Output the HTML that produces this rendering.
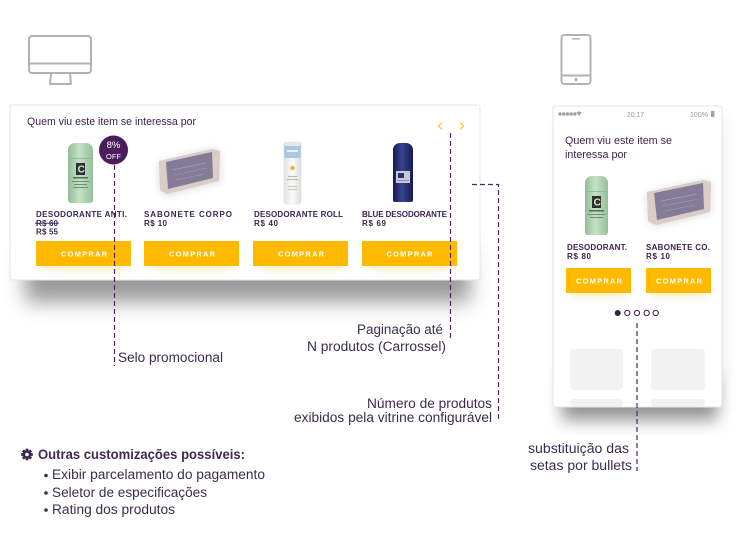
<!DOCTYPE html>
<html><head><meta charset="utf-8"><style>
html,body{margin:0;padding:0;background:#fff;}
svg{display:block;}
text{font-family:"Liberation Sans",Arial,sans-serif;}
</style></head><body>
<svg width="736" height="548" viewBox="0 0 736 548" xmlns="http://www.w3.org/2000/svg">
<defs>
<filter id="b10" x="-30%" y="-100%" width="160%" height="300%"><feGaussianBlur stdDeviation="10"/></filter>
<filter id="b9" x="-30%" y="-100%" width="160%" height="300%"><feGaussianBlur stdDeviation="9"/></filter>
<filter id="b8" x="-30%" y="-30%" width="160%" height="160%"><feGaussianBlur stdDeviation="8"/></filter>
<filter id="b4" x="-30%" y="-100%" width="160%" height="300%"><feGaussianBlur stdDeviation="4"/></filter>
<linearGradient id="gGreen" x1="0" x2="1" y1="0" y2="0"><stop offset="0" stop-color="#93bd97"/><stop offset=".45" stop-color="#c6e2c6"/><stop offset="1" stop-color="#95bf98"/></linearGradient>
<linearGradient id="gBlue" x1="0" x2="1" y1="0" y2="0"><stop offset="0" stop-color="#141a52"/><stop offset=".45" stop-color="#3a4590"/><stop offset="1" stop-color="#141a52"/></linearGradient>
<linearGradient id="gWhite" x1="0" x2="1" y1="0" y2="0"><stop offset="0" stop-color="#e2e2df"/><stop offset=".5" stop-color="#fafaf8"/><stop offset="1" stop-color="#dcdcd8"/></linearGradient>
</defs>

<!-- monitor icon -->
<g fill="none" stroke="#b3b3b3" stroke-width="2" stroke-linejoin="round">
<rect x="29" y="36" width="62" height="37" rx="3"/>
<line x1="29" y1="63.5" x2="91" y2="63.5"/>
<path d="M51 73 L50 84 H71 L70 73"/>
</g>

<!-- phone icon -->
<g fill="none" stroke="#b3b3b3" stroke-width="2">
<rect x="561.5" y="35" width="29" height="49" rx="3"/>
<line x1="561.5" y1="75.5" x2="590.5" y2="75.5"/>
<line x1="572" y1="38.8" x2="580" y2="38.8" stroke-width="1.5"/>
</g>
<circle cx="576" cy="79.6" r="1.6" fill="#b3b3b3"/>

<!-- desktop card shadow -->
<rect x="25" y="250" width="445" height="52" fill="#000" opacity=".4" filter="url(#b10)"/>
<rect x="10" y="105" width="470" height="175" rx="2" fill="#fff" stroke="#e5e5e5" stroke-width="1"/>

<!-- phone card shadow -->
<rect x="560" y="118" width="164" height="292" fill="#000" opacity=".08" filter="url(#b8)"/>
<rect x="562" y="375" width="155" height="46" fill="#000" opacity=".38" filter="url(#b8)"/>
<rect x="553" y="106" width="169" height="301" rx="3" fill="#fff" stroke="#e5e5e5" stroke-width="1"/>

<!-- desktop title -->
<text x="27" y="125" font-size="11" fill="#3b1f4c" textLength="169" lengthAdjust="spacingAndGlyphs">Quem viu este item se interessa por</text>

<!-- arrows -->
<polyline points="442,122.5 438.5,126 442,129.5" fill="none" stroke="#ffbb10" stroke-width="1"/>
<polyline points="460,122.5 463.5,126 460,129.5" fill="none" stroke="#ffbb10" stroke-width="1"/>

<!-- desktop product 1: deodorant -->
<g>
<rect x="68" y="143" width="25" height="60" rx="7" fill="url(#gGreen)"/>
<rect x="68" y="158" width="25" height="45" rx="3" fill="url(#gGreen)"/>
<line x1="69" y1="158.5" x2="92" y2="158.5" stroke="#88b08c" stroke-width=".8"/>
<rect x="76" y="163" width="9" height="12" fill="#2f3330"/>
<text x="77.6" y="172.5" font-size="10" fill="#d8e8d8" font-weight="bold">C</text>
<rect x="73" y="177" width="15" height="1.5" fill="#4f6f52"/>
<rect x="72" y="181" width="17" height="1" fill="#6f8f72"/>
<rect x="74" y="184" width="13" height="1" fill="#6f8f72"/>
<rect x="73" y="187" width="15" height="1" fill="#6f8f72"/>
</g>
<!-- badge -->
<circle cx="113.5" cy="150" r="14.5" fill="#4a1d5e"/>
<text x="113.5" y="148" font-size="9.5" fill="#fff" text-anchor="middle">8%</text>
<text x="113.5" y="159" font-size="7.5" fill="#fff" text-anchor="middle">OFF</text>

<!-- desktop product 2: soap -->
<g>
<polygon points="158,163 213,148 221,152 221,182 167,196 159,191" fill="#000" opacity=".12" filter="url(#b4)"/>
<polygon points="159,161 212,149 220,151 219,181 167,194 160,190" fill="#d9cdc5"/>
<polygon points="166,162 212,152 213,178 168,189" fill="#837b97"/>
<line x1="172" y1="170" x2="206" y2="163" stroke="#a79fb9" stroke-width=".8"/>
<line x1="174" y1="175" x2="207" y2="168" stroke="#a79fb9" stroke-width=".6"/>
<line x1="176" y1="180" x2="204" y2="174" stroke="#a79fb9" stroke-width=".6"/>
</g>

<!-- desktop product 3: spray -->
<g>
<rect x="284" y="142" width="17" height="62" rx="2.5" fill="url(#gWhite)" stroke="#dedede" stroke-width=".6"/>
<rect x="284.3" y="145" width="16.4" height="13" fill="#a9c8df"/>
<rect x="285" y="142" width="15" height="4" rx="1.5" fill="#dfe9f0"/>
<rect x="287" y="150" width="11" height="2" fill="#e8f1f7"/>
<circle cx="292.5" cy="168" r="2.2" fill="#d4bd46"/>
<rect x="288" y="176" width="9" height=".8" fill="#aaa"/>
<rect x="287" y="179" width="11" height=".8" fill="#aaa"/>
<rect x="288" y="186" width="9" height=".8" fill="#bbb"/>
<rect x="288" y="189" width="9" height=".8" fill="#bbb"/>
</g>

<!-- desktop product 4: blue -->
<g>
<rect x="393" y="143" width="20" height="59" rx="7" fill="url(#gBlue)"/>
<rect x="393" y="158" width="20" height="44" rx="2" fill="url(#gBlue)"/>
<rect x="396" y="171" width="14" height="12" fill="#c6cad6"/>
<rect x="398" y="173" width="6" height="5" fill="#2b3170"/>
<rect x="397" y="180" width="12" height="1" fill="#8a8fa6"/>
</g>

<!-- desktop names/prices -->
<g font-size="8" font-weight="bold" fill="#3b2450">
<text x="36" y="217" textLength="91" lengthAdjust="spacing">DESODORANTE ANTI.</text>
<text x="36" y="226" textLength="22" lengthAdjust="spacing">R$ 60</text>
<text x="36" y="234.5" textLength="22" lengthAdjust="spacing">R$ 55</text>
<text x="144" y="217" textLength="88" lengthAdjust="spacing">SABONETE CORPO</text>
<text x="144" y="226" textLength="23" lengthAdjust="spacing">R$ 10</text>
<text x="254" y="217" textLength="89" lengthAdjust="spacing">DESODORANTE ROLL</text>
<text x="254" y="226" textLength="24" lengthAdjust="spacing">R$ 40</text>
<text x="362" y="217" textLength="85" lengthAdjust="spacing">BLUE DESODORANTE</text>
<text x="362" y="226" textLength="24" lengthAdjust="spacing">R$ 69</text>
</g>
<line x1="35" y1="223.2" x2="59" y2="223.2" stroke="#3b2450" stroke-width=".8"/>

<!-- desktop buttons -->
<g fill="#ffcc50" opacity=".35" filter="url(#b4)">
<rect x="44" y="258" width="80" height="12"/>
<rect x="152" y="258" width="80" height="12"/>
<rect x="261" y="258" width="80" height="12"/>
<rect x="370" y="258" width="80" height="12"/>
</g>
<g fill="#ffba00">
<rect x="36" y="241" width="95" height="25"/>
<rect x="144" y="241" width="95" height="25"/>
<rect x="253" y="241" width="95" height="25"/>
<rect x="362" y="241" width="95" height="25"/>
</g>
<g font-size="7.5" font-weight="bold" fill="#fff">
<text x="61" y="256.3" textLength="46" lengthAdjust="spacing">COMPRAR</text>
<text x="169" y="256.3" textLength="46" lengthAdjust="spacing">COMPRAR</text>
<text x="278" y="256.3" textLength="46" lengthAdjust="spacing">COMPRAR</text>
<text x="386.5" y="256.3" textLength="46" lengthAdjust="spacing">COMPRAR</text>
</g>

<!-- phone status bar -->
<g fill="#a39fac">
<circle cx="560" cy="114" r="1.7"/><circle cx="563.7" cy="114" r="1.7"/><circle cx="567.4" cy="114" r="1.7"/><circle cx="571.1" cy="114" r="1.7"/><circle cx="574.8" cy="114" r="1.7"/>
<path d="M576.5 112.5 Q579 110.5 581.5 112.5 L579 116 Z"/>
<rect x="711" y="111" width="3.5" height="6" rx=".5"/>
</g>
<text x="627" y="117" font-size="7.5" fill="#9a9a9a" textLength="17" lengthAdjust="spacingAndGlyphs">20:17</text>
<text x="690" y="117" font-size="7.5" fill="#9a9a9a" textLength="18" lengthAdjust="spacingAndGlyphs">100%</text>

<!-- phone title -->
<text x="565" y="144" font-size="11" fill="#3b1f4c" textLength="107" lengthAdjust="spacingAndGlyphs">Quem viu este item se</text>
<text x="565" y="158" font-size="11" fill="#3b1f4c" textLength="62" lengthAdjust="spacingAndGlyphs">interessa por</text>

<!-- phone product 1 -->
<g>
<rect x="585" y="176" width="23" height="59" rx="7" fill="url(#gGreen)"/>
<rect x="585" y="191" width="23" height="44" rx="3" fill="url(#gGreen)"/>
<line x1="586" y1="191.5" x2="607" y2="191.5" stroke="#88b08c" stroke-width=".8"/>
<rect x="592" y="196" width="9" height="12" fill="#2f3330"/>
<text x="593.6" y="205.5" font-size="10" fill="#d8e8d8" font-weight="bold">C</text>
<rect x="589" y="210" width="15" height="1.5" fill="#4f6f52"/>
<rect x="588" y="214" width="17" height="1" fill="#6f8f72"/>
<rect x="590" y="217" width="13" height="1" fill="#6f8f72"/>
</g>
<!-- phone product 2 -->
<g>
<polygon points="646,193 703,180 712,183 711,213 656,227 648,222" fill="#000" opacity=".12" filter="url(#b4)"/>
<polygon points="647,192 703,180 711,182 710,212 656,225 648,221" fill="#d9cdc5"/>
<polygon points="654,193 703,183 704,209 657,220" fill="#837b97"/>
<line x1="661" y1="201" x2="697" y2="194" stroke="#a79fb9" stroke-width=".8"/>
<line x1="663" y1="206" x2="698" y2="199" stroke="#a79fb9" stroke-width=".6"/>
<line x1="665" y1="211" x2="695" y2="205" stroke="#a79fb9" stroke-width=".6"/>
</g>

<!-- phone names -->
<g font-size="8" font-weight="bold" fill="#3b2450">
<text x="567" y="250" textLength="60" lengthAdjust="spacing">DESODORANT.</text>
<text x="567" y="259" textLength="24" lengthAdjust="spacing">R$ 80</text>
<text x="646" y="250" textLength="64" lengthAdjust="spacing">SABONETE CO.</text>
<text x="646" y="259" textLength="24" lengthAdjust="spacing">R$ 10</text>
</g>
<g fill="#ffcc50" opacity=".35" filter="url(#b4)">
<rect x="572" y="285" width="54" height="12"/>
<rect x="652" y="285" width="54" height="12"/>
</g>
<rect x="566" y="268" width="65" height="25" fill="#ffba00"/>
<rect x="646" y="268" width="65" height="25" fill="#ffba00"/>
<g font-size="7.5" font-weight="bold" fill="#fff">
<text x="576" y="283.3" textLength="46" lengthAdjust="spacing">COMPRAR</text>
<text x="656" y="283.3" textLength="46" lengthAdjust="spacing">COMPRAR</text>
</g>

<!-- bullets -->
<circle cx="617.7" cy="313" r="3" fill="#3b1d4b"/>
<g fill="none" stroke="#3b1d4b" stroke-width="1">
<circle cx="627.3" cy="313" r="2.6"/>
<circle cx="637" cy="313" r="2.6"/>
<circle cx="646.7" cy="313" r="2.6"/>
<circle cx="655.7" cy="313" r="2.6"/>
</g>

<!-- skeletons -->
<g fill="#f2f2f2">
<rect x="570" y="349" width="53" height="41" rx="4"/>
<rect x="651" y="349" width="54" height="41" rx="4"/>
<rect x="570" y="399" width="53" height="7.5" rx="3"/>
<rect x="651" y="399" width="54" height="7.5" rx="3"/>
</g>

<!-- connectors -->
<g fill="none" stroke="#4a2a66" stroke-width="1.2" stroke-dasharray="5 3">
<path d="M114.5 165 V366"/>
<path d="M450.5 133 V341"/>
<path d="M472 184.5 H498.5 V422"/>
<path d="M637 323 V471"/>
</g>

<!-- labels -->
<g font-size="13.5" fill="#3d2b4f">
<text x="118" y="362" textLength="105" lengthAdjust="spacingAndGlyphs">Selo promocional</text>
<text x="357" y="334" textLength="86" lengthAdjust="spacingAndGlyphs">Paginação até</text>
<text x="307" y="351" textLength="139" lengthAdjust="spacingAndGlyphs">N produtos (Carrossel)</text>
<text x="367" y="408" textLength="125" lengthAdjust="spacingAndGlyphs">Número de produtos</text>
<text x="294" y="422" textLength="198" lengthAdjust="spacingAndGlyphs">exibidos pela vitrine configurável</text>
<text x="528" y="453" textLength="101" lengthAdjust="spacingAndGlyphs">substituição das</text>
<text x="530" y="470" textLength="102" lengthAdjust="spacingAndGlyphs">setas por bullets</text>
</g>

<!-- gear -->
<g fill="#3d2b4f" transform="translate(27 454.5)">
<circle r="4.2"/>
<rect x="-1.4" y="-5.8" width="2.8" height="11.6"/>
<rect x="-1.4" y="-5.8" width="2.8" height="11.6" transform="rotate(45)"/>
<rect x="-1.4" y="-5.8" width="2.8" height="11.6" transform="rotate(90)"/>
<rect x="-1.4" y="-5.8" width="2.8" height="11.6" transform="rotate(135)"/>
<circle r="1.8" fill="#fff"/>
</g>
<text x="38" y="459" font-size="13.5" font-weight="bold" fill="#3d2b4f" textLength="207" lengthAdjust="spacingAndGlyphs">Outras customizações possíveis:</text>
<g fill="#3d2b4f">
<circle cx="46" cy="475.5" r="1.8"/>
<circle cx="46" cy="493" r="1.8"/>
<circle cx="46" cy="510" r="1.8"/>
</g>
<g font-size="13.5" fill="#3d2b4f">
<text x="52" y="479" textLength="213" lengthAdjust="spacingAndGlyphs">Exibir parcelamento do pagamento</text>
<text x="52" y="497" textLength="155" lengthAdjust="spacingAndGlyphs">Seletor de especificações</text>
<text x="52" y="514" textLength="123" lengthAdjust="spacingAndGlyphs">Rating dos produtos</text>
</g>
</svg>
</body></html>
